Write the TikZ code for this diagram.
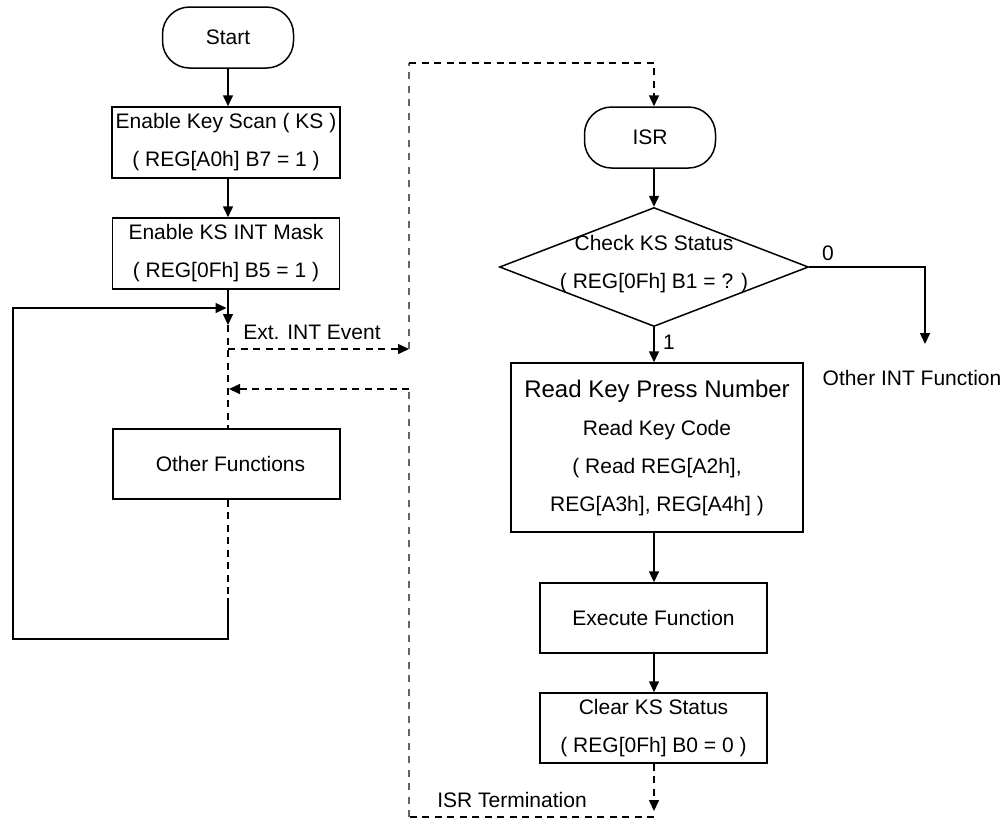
\documentclass[tikz,border=0pt]{standalone}
\usepackage{fontspec}
\setmainfont{Liberation Sans}
\usetikzlibrary{arrows.meta,shapes.geometric}
\begin{document}
\begin{tikzpicture}[x=1pt,y=-1pt,
  font=\fontsize{21}{38}\selectfont,
  line width=1.5pt,
  arr/.style={-{Triangle[length=11pt,width=10pt]}},
  dsh/.style={dash pattern=on 7pt off 5.5pt},
  gdsh/.style={draw={rgb,255:red,100;green,100;blue,100}, line width=2.6pt, dash pattern=on 7pt off 6.5pt},
  boxn/.style={draw, rectangle, inner sep=0pt, align=center},
  termn/.style={draw, rectangle, rounded corners=27pt, inner sep=0pt, minimum width=131pt, minimum height=61pt},
  txt/.style={inner sep=0pt, align=center}
]
\useasboundingbox (0,0) rectangle (1008,823);

% left column
\node[termn] (start) at (228,37.5) {Start};
\node[boxn, minimum width=228pt, minimum height=71pt] (box1) at (226,142.5)
  {Enable Key Scan ( KS )\\( REG[A0h] B7 = 1 )};
\node[boxn, minimum width=227pt, minimum height=71pt] (box2) at (226,253.5)
  {Enable KS INT Mask\\( REG[0Fh] B5 = 1 )};
\node[boxn, minimum width=227pt, minimum height=70pt] (other) at (226.5,464)
  {\hspace*{8pt}Other Functions};

\coordinate (lc) at (228,0);
\coordinate (j1) at (228,325);
\coordinate (j2) at (228,598);
\coordinate (bl) at (13,639);
\coordinate (lpend) at (226.5,308);
\coordinate (e1) at (228,349);
\coordinate (e2) at (409,349);
\coordinate (t1) at (409,63);
\coordinate (r1) at (409,389);
\coordinate (r2) at (229,389);
\coordinate (b0) at (654,811);
\coordinate (b1) at (654,817);
\coordinate (b2) at (409,817);

\draw[arr] (start.south -| lc) -- (box1.north -| lc);
\draw[arr] (box1.south -| lc) -- (box2.north -| lc);
\draw[arr] (box2.south -| lc) -- (j1);
\draw[dsh] (j1) -- (other.north -| lc);
\draw[dsh] (other.south -| lc) -- (j2);
\draw[arr] (j2) |- (bl) |- (lpend);

\node[txt] (ext) at (312,332) {Ext. INT Event};
\draw[dsh, arr] (e1) -- (e2);
\draw[gdsh] (e2) -- (t1);

% right column
\coordinate (rc) at (654,0);
\node[termn] (isr) at (650,137.5) {ISR};
\draw[dsh, arr] (t1) -| (isr.north -| rc);

\node[draw, diamond, inner sep=0pt, minimum width=309pt, minimum height=119pt] (dia) at (654,267) {};
\node[txt] (diat) at (654,264) {Check KS Status\\( REG[0Fh] B1 = ? )};
\draw[arr] (isr.south -| rc) -- (dia.north);

\node[boxn, minimum width=292pt, minimum height=169pt] (read) at (657,447.5)
  {{\fontsize{24}{37}\selectfont Read Key Press Number}\\Read Key Code\\( Read REG[A2h],\\REG[A3h], REG[A4h] )};
\draw[arr] (dia.south) -- (dia.south |- read.north);
\node[txt] (one) at (669,342) {1};

\coordinate (ob) at (925,344);
\draw[arr] (dia.east) -| (ob);
\node[txt] (zero) at (828,253) {0};
\node[txt] (oint) at (912,378) {Other INT Function};

\node[boxn, minimum width=227pt, minimum height=70pt] (exec) at (653.5,618) {Execute Function};
\node[boxn, minimum width=227pt, minimum height=70pt] (clear) at (653.5,728)
  {Clear KS Status\\( REG[0Fh] B0 = 0 )};
\draw[arr] (read.south -| rc) -- (exec.north -| rc);
\draw[arr] (exec.south -| rc) -- (clear.north -| rc);

\draw[dsh, arr] (clear.south -| rc) -- (b0);
\draw[dsh] (b1) -- (b2);
\draw[gdsh] (b2) -- (r1);
\draw[dsh, arr] (r1) -- (r2);
\node[txt] (isrt) at (512,800) {ISR Termination};
\end{tikzpicture}
\end{document}
